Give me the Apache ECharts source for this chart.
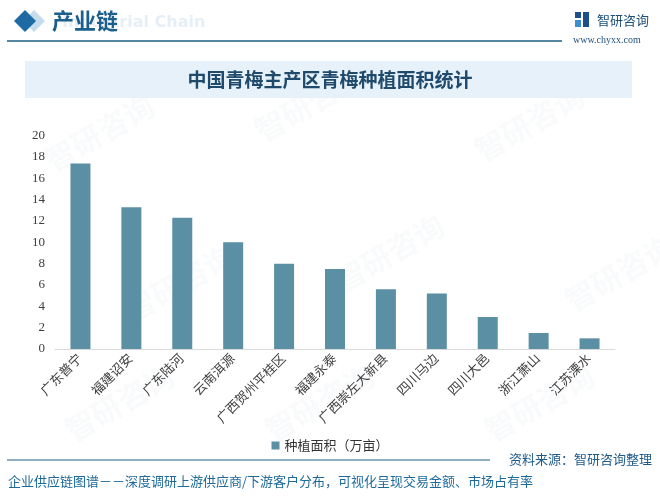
<!DOCTYPE html>
<html><head><meta charset="utf-8">
<script src="https://cdn.jsdelivr.net/npm/echarts@6/dist/echarts.min.js"></script>
<style>html,body{margin:0;padding:0;background:#fff}#c{width:660px;height:496px}</style>
</head><body><div id="c"></div>
<script>
const categories = ['广东普宁','福建诏安','广东陆河','云南洱源','广西贺州平桂区','福建永泰','广西崇左大新县','四川马边','四川大邑','浙江萧山','江苏溧水'];
const areaValues = [17.4, 13.3, 12.3, 10.0, 8.0, 7.5, 5.6, 5.2, 3.0, 1.5, 1.0];
const seriesName = '种植面积（万亩）';
const yTicks = {min: 0, max: 20, interval: 2};

const chart = echarts.init(document.getElementById('c'));
const wm = [];
[[40,150],[250,120],[470,140],[120,300],[330,270],[560,290],[60,420],[260,420],[480,420]].forEach(p=>{
  wm.push({type:'text', x:p[0], y:p[1], rotation:Math.PI/6, z:0, silent:true,
    style:{text:'智研咨询', font:'bold 30px "Noto Sans CJK SC"', fill:'rgba(200,210,220,0.11)'}});
});
chart.setOption({
  animation:false,
  graphic: wm.concat([
    {type:'rect', shape:{x:25,y:61,width:607,height:37}, style:{fill:'#e6f1f9'}, z:1},
    {type:'text', x:330, y:80, style:{text:'中国青梅主产区青梅种植面积统计', font:'bold 19px "Noto Sans CJK SC"', fill:'#1f4a6c', align:'center', verticalAlign:'middle'}, z:2},
    {type:'polygon', shape:{points:[[34,10],[45,21],[34,32],[23,21]]}, style:{fill:'#c5dced'}, z:2},
    {type:'polygon', shape:{points:[[25,10],[36,21],[25,32],[14,21]]}, style:{fill:'#1d6aa5'}, z:3},
    {type:'text', x:62, y:23, style:{text:'Industrial Chain', font:'bold 16px "DejaVu Sans"', fill:'#e6eff7', verticalAlign:'middle'}, z:2},
    {type:'text', x:52, y:21, style:{text:'产业链', font:'bold 22px "Noto Sans CJK SC"', fill:'#1d5f8c', verticalAlign:'middle'}, z:3},
    {type:'line', shape:{x1:7,y1:41,x2:562,y2:41}, style:{stroke:'#1d5f80', lineWidth:1.5}, z:2},
    {type:'rect', shape:{x:575,y:12,width:6,height:6}, style:{fill:'#1d4f8a'}, z:2},
    {type:'rect', shape:{x:583,y:12,width:6,height:15}, style:{fill:'#1d4f8a'}, z:2},
    {type:'rect', shape:{x:575,y:20,width:6,height:7}, style:{fill:'#3a8fd0'}, z:2},
    {type:'text', x:597, y:20, style:{text:'智研咨询', font:'13px "Noto Sans CJK SC"', fill:'#1d4f7a', verticalAlign:'middle'}, z:2},
    {type:'text', x:573, y:40, style:{text:'www.chyxx.com', font:'10px "Liberation Serif"', fill:'#1d4f7a', verticalAlign:'middle'}, z:2},
    {type:'line', shape:{x1:7,y1:460,x2:490,y2:460}, style:{stroke:'#1d6080', lineWidth:1.2}, z:2},
    {type:'text', x:652, y:459, style:{text:'资料来源：智研咨询整理', font:'13px "Noto Sans CJK SC"', fill:'#1d5a8a', align:'right', verticalAlign:'middle'}, z:2},
    {type:'text', x:8, y:481, style:{text:'企业供应链图谱－－深度调研上游供应商/下游客户分布，可视化呈现交易金额、市场占有率', font:'13px "Noto Sans CJK SC"', fill:'#1d6a9a', verticalAlign:'middle'}, z:2}
  ]),
  legend:{data:[seriesName], top:434, left:'center', itemWidth:8, itemHeight:8, icon:'rect', itemGap:4,
    textStyle:{fontSize:13, color:'#333', fontFamily:'"Noto Sans CJK SC"'}},
  grid:{left:55, right:45, top:135.7, bottom:147},
  xAxis:{type:'category', data:categories,
    axisLine:{lineStyle:{color:'#d9d9d9'}}, axisTick:{show:false},
    axisLabel:{rotate:45, interval:0, fontSize:13, color:'#404040', margin:8, fontFamily:'"Liberation Serif","Noto Sans CJK SC"'}},
  yAxis:{type:'value', min:yTicks.min, max:yTicks.max, interval:yTicks.interval,
    axisLine:{show:false}, axisTick:{show:false}, splitLine:{show:false},
    axisLabel:{fontSize:13, color:'#404040', margin:10, fontFamily:'"Liberation Serif"'}},
  series:[{name:seriesName, type:'bar', data:areaValues, barWidth:20, itemStyle:{color:'#5b8fa3'}}]
});
</script></body></html>
